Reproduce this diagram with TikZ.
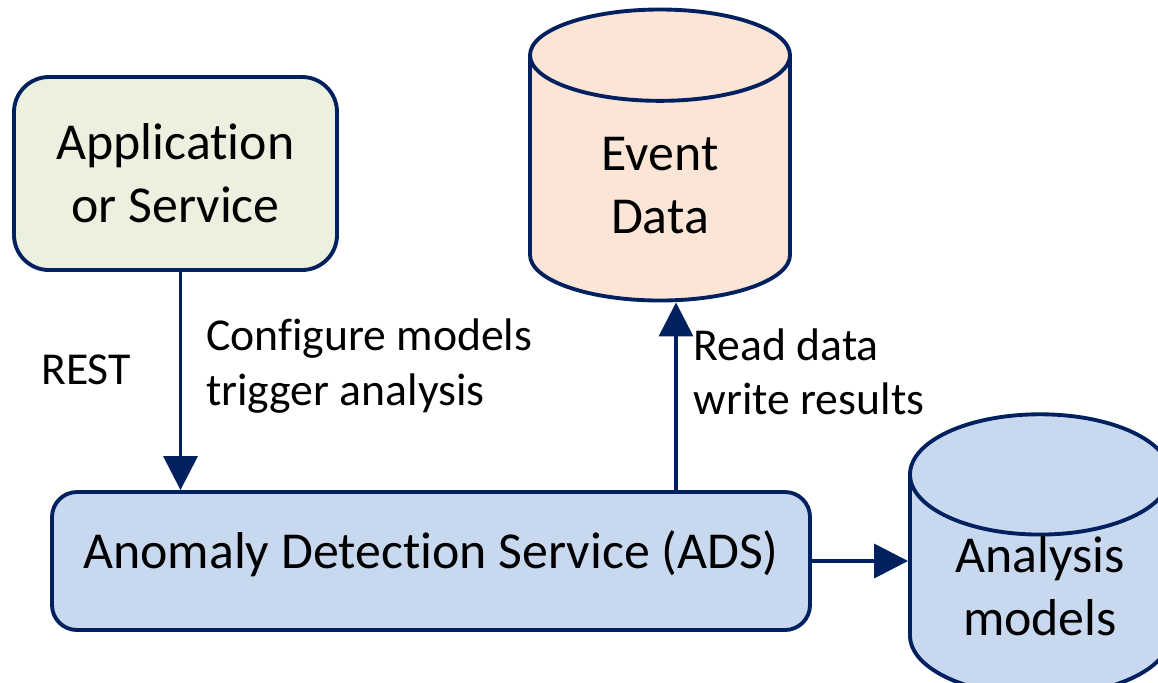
\documentclass[tikz,border=0pt]{standalone}
\usepackage{fontspec}
\setmainfont{Carlito}[Ligatures=NoCommon]
\usetikzlibrary{arrows.meta,shapes.geometric}
\definecolor{navy}{RGB}{0,32,96}
\definecolor{appgreen}{RGB}{235,241,222}
\definecolor{datapeach}{RGB}{251,229,214}
\definecolor{adsblue}{RGB}{199,216,239}

\begin{document}
\begin{tikzpicture}[
    box/.style={draw=navy,line width=2.2pt,rounded corners=0.7cm,align=center,font=\fontsize{29.5}{35.7}\selectfont},
    store/.style={cylinder,shape border rotate=90,aspect=0.71,draw=navy,line width=2.2pt,minimum width=5.2cm,align=center,font=\fontsize{29.5}{35.7}\selectfont},
    flow/.style={draw=navy,line width=2pt,-{Triangle[width=0.68cm,length=0.68cm]}},
    note/.style={align=left,font=\fontsize{26}{31.2}\selectfont}]
    \useasboundingbox (0,0) rectangle (23.16,-13.64);
    % boxes and stores
    \node[box,fill=appgreen,minimum width=6.46cm,minimum height=3.86cm] (app) at (3.51,-3.47) {Application\\or Service};
    \node[store,fill=datapeach,minimum height=5.82cm,anchor=shape center] (evt) at (13.2,-3.1) {Event\\Data};
    \node[box,fill=adsblue,rounded corners=0.5cm,minimum width=15.16cm,minimum height=2.76cm,text height=0.75cm,text depth=0.47cm] (ads) at (8.62,-11.22) {Anomaly Detection Service (ADS)};
    \node[store,fill=adsblue,inner sep=0pt,minimum height=4.3cm,anchor=shape center] (mod) at (20.8,-11.1) {Analysis\\models};
    % connectors
    \draw[flow] ([xshift=0.1cm]app.south) -- ([xshift=0.1cm]app.south |- ads.north)
        node[pos=0.43,right=0.36cm,note]{Configure models\\trigger analysis}
        node[pos=0.45,left=0.84cm,note]{REST};
    \draw[flow] ([xshift=0.32cm]evt.south |- ads.north) -- ([xshift=0.32cm]evt.south)
        node[pos=0.63,right=0.2cm,note]{Read data\\write results};
    \draw[flow] (ads.east) -- (ads.east -| mod.west);
\end{tikzpicture}
\end{document}
